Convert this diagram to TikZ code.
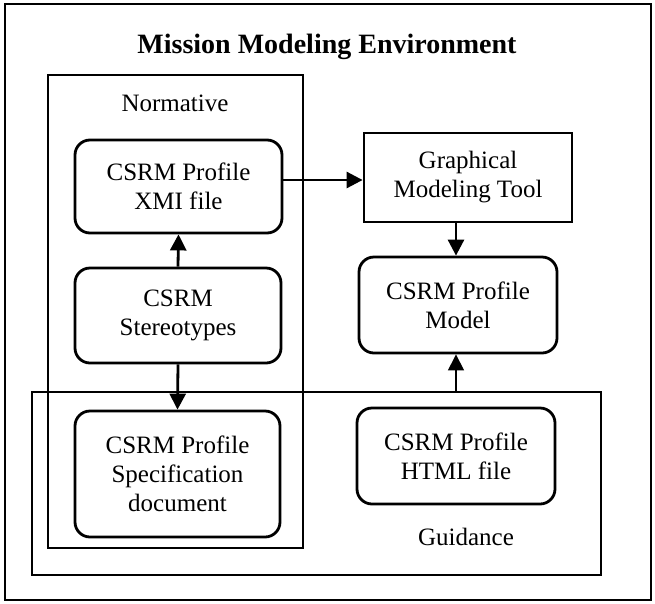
\documentclass[tikz,border=0pt]{standalone}
\usepackage{fontspec}
\setmainfont{Liberation Serif}
\usetikzlibrary{arrows.meta}

\begin{document}
\begin{tikzpicture}[x=1pt,y=-1pt,
  every node/.style={font=\fontsize{25}{29}\selectfont, align=center, inner sep=0pt},
  frame/.style={draw, line width=2.4pt},
  container/.style={draw, line width=2.4pt},
  roundbox/.style={draw, line width=2.8pt, rounded corners=15pt},
  squarebox/.style={draw, line width=2.8pt},
  arr/.style={line width=2.8pt, -{Triangle[length=16pt,width=16pt]}},
  thinarr/.style={line width=1.2pt, -{Triangle[length=16pt,width=16pt]}}]

\useasboundingbox (0,0) rectangle (655,603);

% outer environment frame and its title
\node[frame, minimum width=646pt, minimum height=596pt] (env) at (328,302) {};
\node[font=\fontsize{28}{32}\selectfont\bfseries] (title) at (327,47) {Mission Modeling Environment};

% grouping containers
\node[container, minimum width=255pt, minimum height=473pt] (norm) at (175.5,311.5) {};
\node (normlbl) at (175,103) {Normative};
\node[container, minimum width=569pt, minimum height=183pt] (guid) at (316.5,483.5) {};
\node (guidlbl) at (466,537) {Guidance};

% artefacts
\node[roundbox, minimum width=207pt, minimum height=93pt] (xmi) at (178.5,186.5) {CSRM Profile\\XMI file};
\node[roundbox, minimum width=206pt, minimum height=95pt] (stereo) at (178,315.5) {CSRM\\Stereotypes};
\node[roundbox, minimum width=205pt, minimum height=126pt] (spec) at (177.5,474) {CSRM Profile\\Specification\\document};
\node[squarebox, minimum width=208pt, minimum height=89pt] (gmt) at (468,177.5) {Graphical\\Modeling Tool};
\node[roundbox, minimum width=198pt, minimum height=96pt] (model) at (458,305) {CSRM Profile\\Model};
\node[roundbox, minimum width=198pt, minimum height=96pt] (html) at (456,456) {CSRM Profile\\HTML file};

% connectors
\draw[arr] ([yshift=6.5pt]xmi.east) -- ([yshift=6.5pt]xmi.east -| gmt.west);
\draw[arr] (stereo.north) -- (xmi.south);
\draw[arr] (stereo.south) -- (spec.north);
\draw[arr] ([xshift=-2pt]model.north |- gmt.south) -- ([xshift=-2pt]model.north);
\draw[thinarr] ([xshift=-2pt]model.south |- guid.north) -- ([xshift=-2pt]model.south);
\end{tikzpicture}
\end{document}
